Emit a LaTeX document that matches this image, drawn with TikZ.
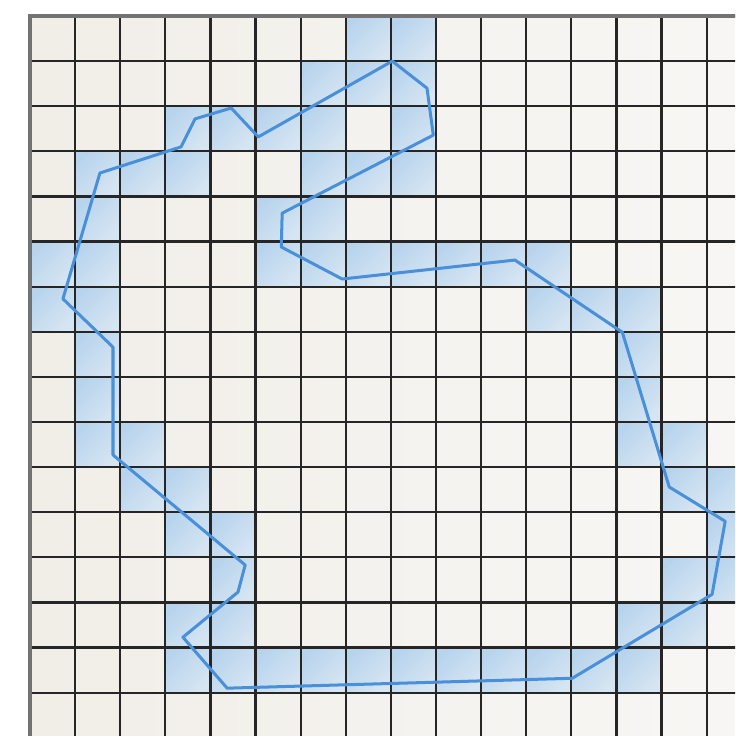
\documentclass[tikz,border=0pt]{standalone}
\usepackage{tikz}
\usepackage{xcolor}
\definecolor{paper}{RGB}{241,238,232}
\definecolor{paperlight}{RGB}{248,247,245}
\definecolor{cellblue}{RGB}{184,212,237}
\definecolor{cellbluelight}{RGB}{214,229,242}
\definecolor{trace}{RGB}{74,144,217}
\tikzset{hitcell/.style={top color=cellblue, bottom color=cellbluelight, shading angle=45}}

\begin{document}
\begin{tikzpicture}[x=1cm,y=-1cm]
\useasboundingbox (-0.665,-0.355) rectangle (15.63,15.96);
\clip (-0.665,-0.355) rectangle (15.63,15.96);

% paper
\shade[left color=paper, right color=paperlight] (0,0) rectangle (16.5,16.5);

% cells hit by the outline
\foreach \r/\cols in {0/{7,8}, 1/{6,7,8}, 2/{3,4,5,6,8}, 3/{1,2,3,6,7,8}, 4/{1,5,6},
  5/{0,1,5,6,7,8,9,10,11}, 6/{0,1,11,12,13}, 7/{1,13}, 8/{1,13}, 9/{1,2,13,14},
  10/{2,3,14,15}, 11/{3,4,15}, 12/{4,14,15}, 13/{3,4,13,14}, 14/{3,4,5,6,7,8,9,10,11,12,13}}
  \foreach \c in \cols \shade[hitcell] (\c,\r) rectangle ++(1,1);

% grid
\draw[line width=1.4pt, black!85] (0,0) grid (16.5,16.5);
\draw[line width=2.2pt, black!55] (0,16.5) -- (0,0) -- (16.5,0);

% outline
\draw[trace, line width=1.9pt, line join=round]
  (1.55,3.48) -- (3.35,2.90) -- (3.66,2.28) -- (4.46,2.04) -- (5.06,2.68)
  -- (8.03,1.00) -- (8.80,1.60) -- (8.94,2.64) -- (5.59,4.37) -- (5.57,5.12)
  -- (6.92,5.83) -- (10.75,5.41) -- (13.13,7.01) -- (14.17,10.44) -- (15.41,11.20)
  -- (15.12,12.82) -- (12.02,14.68) -- (4.37,14.90) -- (3.39,13.77) -- (4.61,12.77)
  -- (4.77,12.17) -- (1.84,9.73) -- (1.84,7.34) -- (0.73,6.27) -- cycle;

\end{tikzpicture}
\end{document}
